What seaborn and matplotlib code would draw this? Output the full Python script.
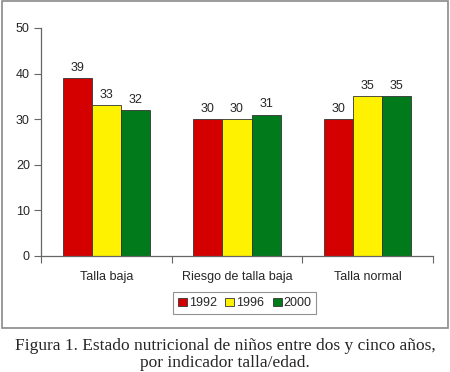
# Estado nutricional de niños entre dos y cinco años, por indicador talla/edad
import matplotlib
matplotlib.use("Agg")
import matplotlib.pyplot as plt
from matplotlib.patches import Rectangle
import seaborn as sns
import pandas as pd

# Datos
indicadores = ["Talla baja", "Riesgo de talla baja", "Talla normal"]
anios = ["1992", "1996", "2000"]
valores_1992 = [39, 30, 30]
valores_1996 = [33, 30, 35]
valores_2000 = [32, 31, 35]
colores = ["#d40000", "#fff200", "#007a1a"]

df = pd.DataFrame({
    "indicador": indicadores * 3,
    "anio": [a for a in anios for _ in indicadores],
    "valor": valores_1992 + valores_1996 + valores_2000,
})

sns.set_style("white")
plt.rcParams["font.family"] = ["Liberation Sans", "DejaVu Sans"]

fig = plt.figure(figsize=(4.5, 3.72), dpi=100)
ax = fig.add_axes([0.091, 0.312, 0.871, 0.613])

sns.barplot(data=df, x="indicador", y="valor", hue="anio", palette=colores,
            saturation=1, width=0.67, edgecolor="#333333", linewidth=0.6, ax=ax,
            errorbar=None, legend=True)

# etichette sopra le barre
for cont in ax.containers:
    ax.bar_label(cont, fmt="%d", padding=3, fontsize=9)

ax.set_ylim(0, 50)
ax.set_xlim(-0.5, 2.5)
ax.set_yticks(range(0, 51, 10))
ax.set_xlabel("")
ax.set_ylabel("")
ax.tick_params(axis="y", length=5, width=0.8, color="#666666", labelsize=9, pad=3, left=True)
ax.tick_params(axis="x", which="major", length=0, labelsize=9, pad=11)
ax.set_xticks([-0.5, 0.5, 1.5, 2.5], minor=True)
ax.tick_params(axis="x", which="minor", length=5, width=0.8, color="#666666", bottom=True)
sns.despine(ax=ax)
for s in ["left", "bottom"]:
    ax.spines[s].set_color("#666666")
    ax.spines[s].set_linewidth(0.9)

leg = ax.legend(loc="upper center", bbox_to_anchor=(0.52, -0.16), ncol=3,
                fontsize=9, frameon=True, fancybox=False, edgecolor="#777777",
                handlelength=0.7, handleheight=0.7, handletextpad=0.15,
                columnspacing=0.7, borderpad=0.4, borderaxespad=0)
leg.get_frame().set_linewidth(0.8)

# cornice grigia intorno al grafico
fig.add_artist(Rectangle((0.004, 0.118), 0.992, 0.878, transform=fig.transFigure,
                         fill=False, edgecolor="#8a8a8a", linewidth=1.2))

fig.text(0.5, 0.047, "Figura 1. Estado nutricional de niños entre dos y cinco años,\npor indicador talla/edad.",
         ha="center", va="center", fontsize=12.5, family=["Liberation Serif", "DejaVu Serif"],
         linespacing=1.1)

fig.savefig("out.png", dpi=100)
